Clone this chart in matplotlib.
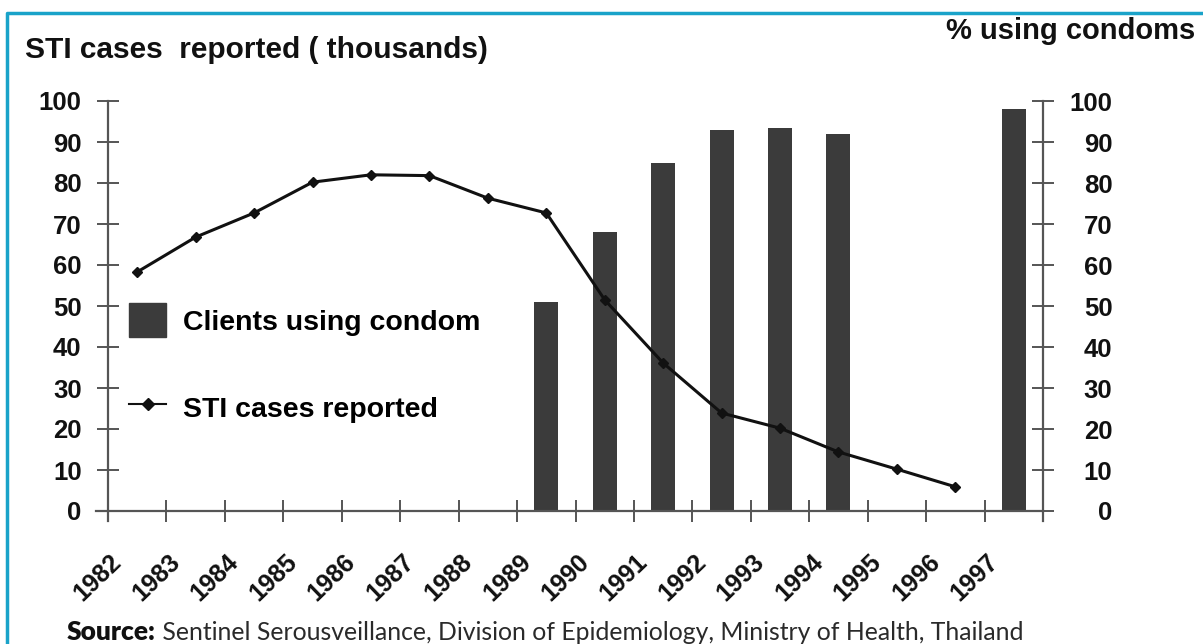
import matplotlib
matplotlib.use("Agg")
import matplotlib.pyplot as plt
from matplotlib.transforms import ScaledTranslation
from matplotlib.patches import Rectangle
from matplotlib.lines import Line2D

years = [str(y) for y in range(1982, 1998)]
sti_cases = [58.3, 66.8, 72.7, 80.2, 82.0, 81.8, 76.3, 72.7, 51.5, 36.1, 23.9, 20.2, 14.4, 10.2, 5.9]
condom_years = ["1989", "1990", "1991", "1992", "1993", "1994", "1997"]
condom_pct = [51, 68, 85, 93, 93.5, 92, 98]
y_ticks = [0, 10, 20, 30, 40, 50, 60, 70, 80, 90, 100]

plt.rcParams['font.family'] = ['Liberation Sans', 'DejaVu Sans']
fig = plt.figure(figsize=(12.03, 6.44), dpi=100)
ax = fig.add_axes([108 / 1203, 133 / 644, 935 / 1203, 410 / 644])
ax2 = ax.twinx()

# bars belong to the right axis, line to the left one (drawn on top)
pos = {y: i + 0.5 for i, y in enumerate(years)}
ax2.bar([pos[y] for y in condom_years], condom_pct, width=0.41, color='#3b3b3b', zorder=2)
ax.plot([pos[y] for y in years[:len(sti_cases)]], sti_cases, color='#111111', lw=2.2,
        marker='D', ms=5, zorder=3)
ax.set_zorder(ax2.get_zorder() + 1)
ax.patch.set_visible(False)

for a in (ax, ax2):
    a.set_xlim(0, 16)
    a.set_ylim(0, 100)
    a.set_yticks(y_ticks)
    a.spines['top'].set_visible(False)
    for s in a.spines.values():
        s.set_color('#555555')
        s.set_linewidth(1.6)
    a.tick_params(axis='both', direction='inout', length=16, width=1.4, color='#555555',
                  labelsize=18.5, labelcolor='#111111')

ax.spines['right'].set_visible(False)
ax2.spines['left'].set_visible(False)
ax2.spines['bottom'].set_visible(False)
ax.spines['bottom'].set_bounds(-0.2, 16)
ax.spines['left'].set_bounds(-2.5, 100)
ax2.spines['right'].set_bounds(-2.5, 100)

ax.tick_params(axis='y', pad=11)
for lab in ax.get_yticklabels():
    lab.set_fontweight('bold')
ax2.tick_params(axis='y', pad=42)
for lab in ax2.get_yticklabels():
    lab.set_fontweight('bold')
    lab.set_horizontalalignment('right')

ax.set_xticks(range(17))
ax.set_xticklabels(years + [''], rotation=44, ha='right', va='center',
                   rotation_mode='anchor', fontsize=18, fontweight='bold')
ax.tick_params(axis='x', pad=26)
shift = ScaledTranslation(10 / 100, 0, fig.dpi_scale_trans)
for lab in ax.get_xticklabels():
    lab.set_transform(lab.get_transform() + shift)

fig.text(25 / 1203, 1 - 50 / 644, 'STI cases  reported ( thousands)', fontsize=21.5,
         fontweight='bold', color='#111111', va='center', ha='left')
fig.text(1195 / 1203, 1 - 31 / 644, '% using condoms', fontsize=21,
         fontweight='bold', color='#111111', va='center', ha='right')

handles = [Rectangle((0, 0), 1, 1, color='#3b3b3b'),
           Line2D([], [], color='#111111', lw=1.5, marker='D', ms=6)]
leg = ax.legend(handles, ['Clients using condom', 'STI cases reported'],
                loc='upper left', bbox_to_anchor=(115 / 1203, 1 - 289 / 644),
                bbox_transform=fig.transFigure, frameon=False, borderpad=0,
                handlelength=1.3, handleheight=1.45, handletextpad=0.6, labelspacing=1.9,
                prop={'family': 'Liberation Sans', 'weight': 'bold', 'size': 20.5})

src = fig.text(67 / 1203, 1 - 632 / 644, 'Source:', fontsize=19, va='center', ha='left',
               family='Lato', fontweight='heavy', color='#111111')
ax.annotate(' Sentinel Serousveillance, Division of Epidemiology, Ministry of Health, Thailand',
            xy=(1, 0.5), xycoords=src, va='center', ha='left', fontsize=17.8,
            family='Lato', fontweight='normal', color='#2a2a2a', annotation_clip=False)

# teal frame
fig.add_artist(Line2D([7 / 1203, 7 / 1203, 1.0], [0, 1 - 13 / 644, 1 - 13 / 644],
                      transform=fig.transFigure, color='#1aa3c9', lw=2.5))

fig.savefig('out.png', dpi=100)
